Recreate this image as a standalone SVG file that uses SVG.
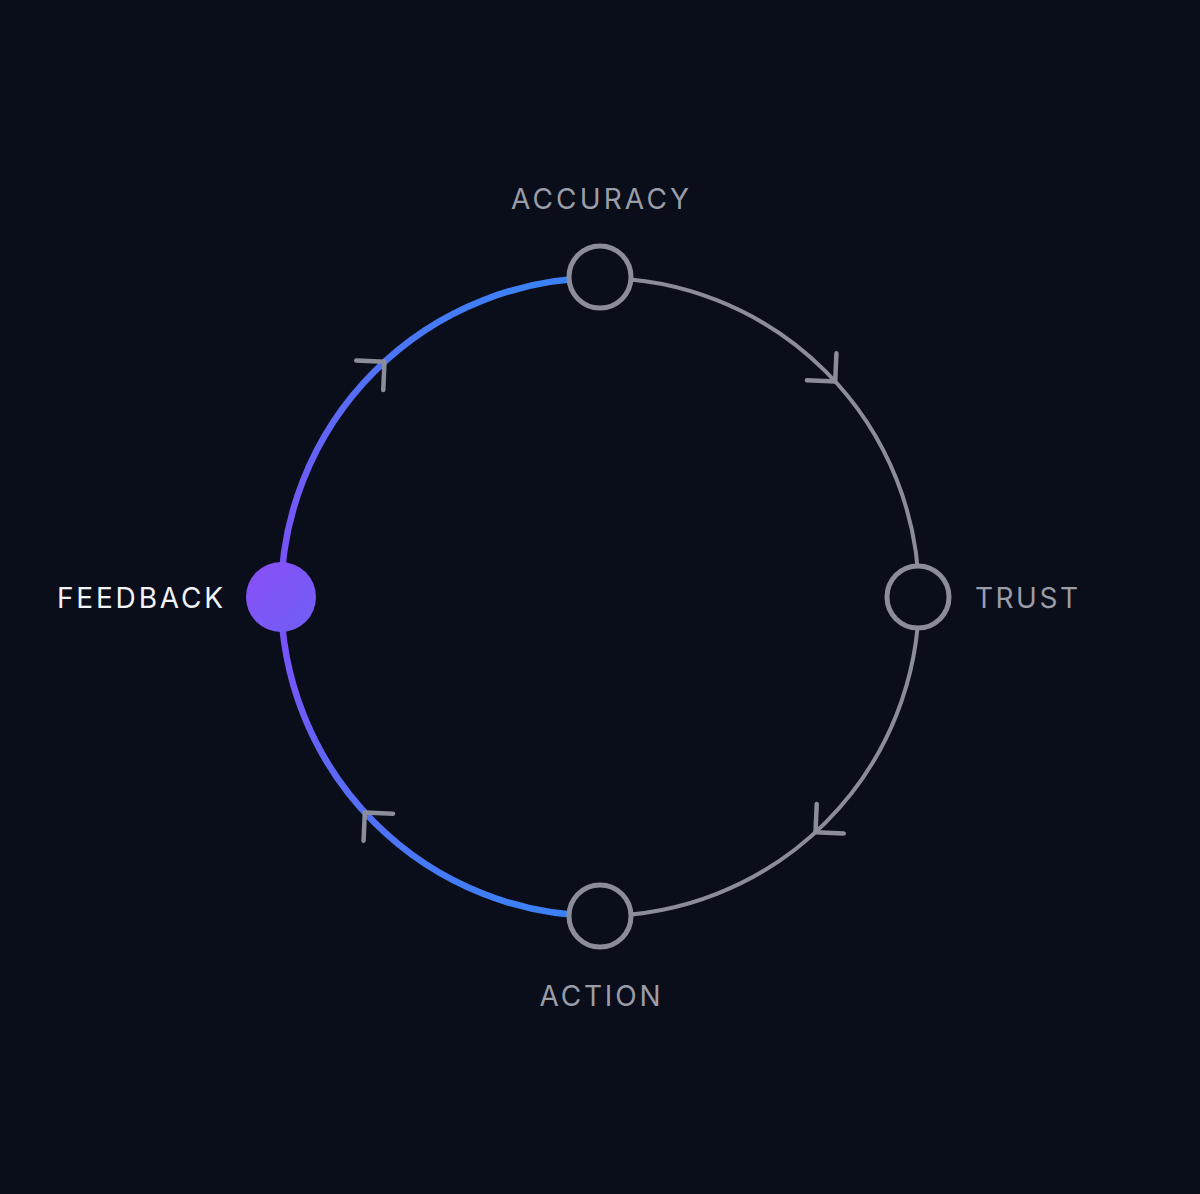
<svg xmlns="http://www.w3.org/2000/svg" width="1200" height="1194" viewBox="0 0 1200 1194">
  <style>
    .lbl { font-family: Inter, "Liberation Sans", sans-serif; font-size: 28px; fill: #9a9da8; text-anchor: middle; }
    .active { fill: #f2f3f7; }
    .node { fill: #0a0d1a; stroke: #8b8e9a; stroke-width: 5; }
    .chev { fill: none; stroke: #8b8e9a; stroke-width: 4.5; stroke-linecap: round; stroke-linejoin: round; }
  </style>
  <defs>
    <linearGradient id="loop" gradientUnits="userSpaceOnUse" x1="0" y1="277" x2="0" y2="917">
      <stop offset="0" stop-color="#3b82f6"/>
      <stop offset="0.12" stop-color="#4c75f6"/>
      <stop offset="0.32" stop-color="#6c5df7"/>
      <stop offset="0.5" stop-color="#7d4ef8"/>
      <stop offset="0.68" stop-color="#6c5df7"/>
      <stop offset="0.88" stop-color="#4c75f6"/>
      <stop offset="1" stop-color="#3b82f6"/>
    </linearGradient>
    <linearGradient id="fb" x1="0" y1="0" x2="1" y2="1">
      <stop offset="0" stop-color="#8a4ff8"/>
      <stop offset="1" stop-color="#6f5ff5"/>
    </linearGradient>
    <path id="chevron" d="M899,577 L919,597 L939,577"/>
  </defs>
  <rect width="1200" height="1194" fill="#0a0d1a"/>

  <g id="connectors">
    <path d="M600,278 A319,319 0 0 1 600,916" fill="none" stroke="#8b8e9a" stroke-width="4"/>
    <path d="M600,916 A319,319 0 0 1 600,278" fill="none" stroke="url(#loop)" stroke-width="6.5"/>
    <use href="#chevron" class="chev" transform="rotate(-42.5 600 597)"/>
    <use href="#chevron" class="chev" transform="rotate(47.5 600 597)"/>
    <use href="#chevron" class="chev" transform="rotate(137.5 600 597)"/>
    <use href="#chevron" class="chev" transform="rotate(227.5 600 597)"/>
  </g>

  <g id="accuracy">
    <circle class="node" cx="600" cy="277" r="31"/>
    <text class="lbl" x="600" y="209" textLength="178" lengthAdjust="spacing">ACCURACY</text>
  </g>
  <g id="trust">
    <circle class="node" cx="918" cy="597" r="31"/>
    <text class="lbl" x="1026.5" y="608" textLength="103" lengthAdjust="spacing">TRUST</text>
  </g>
  <g id="action">
    <circle class="node" cx="600" cy="916" r="31"/>
    <text class="lbl" x="600" y="1006" textLength="121" lengthAdjust="spacing">ACTION</text>
  </g>
  <g id="feedback">
    <circle cx="281" cy="597" r="35" fill="url(#fb)"/>
    <text class="lbl active" x="140" y="608" textLength="166" lengthAdjust="spacing">FEEDBACK</text>
  </g>
</svg>
